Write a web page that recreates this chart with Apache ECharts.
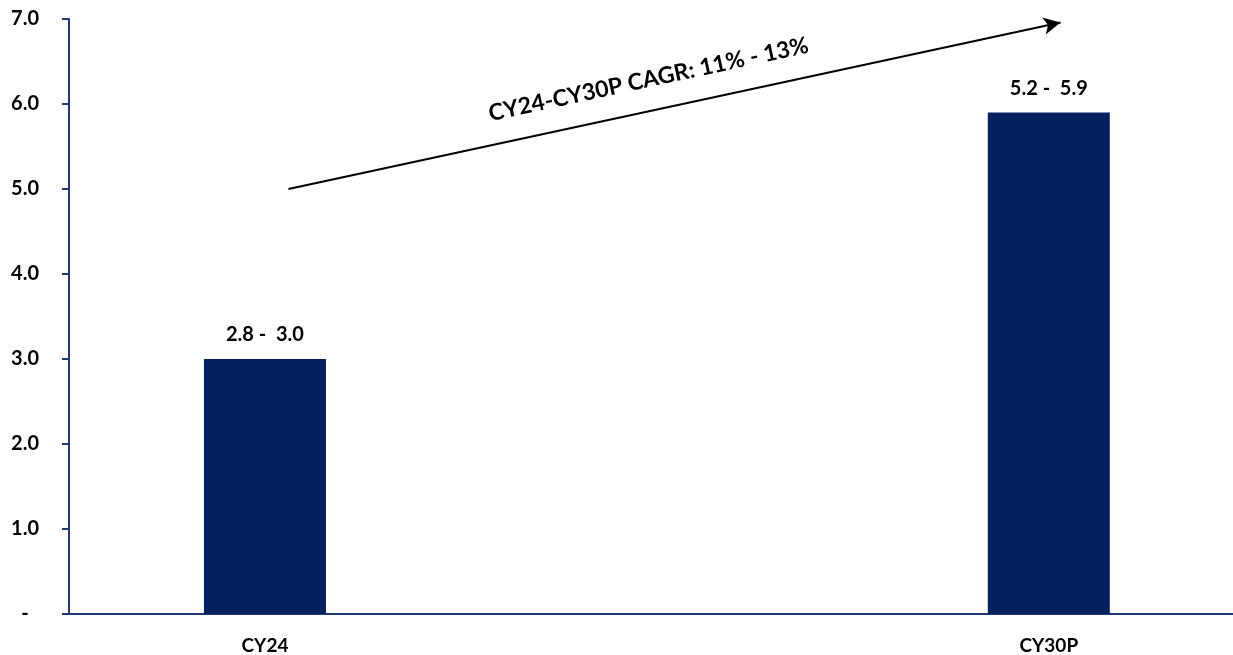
<!DOCTYPE html>
<html>
<head>
<meta charset="utf-8">
<script src="https://cdn.jsdelivr.net/npm/echarts@6/dist/echarts.min.js"></script>
<style>html,body{margin:0;padding:0;background:#fff}#c{width:1233px;height:655px}</style>
</head>
<body>
<div id="c"></div>
<script>
var categories = ['CY24', 'CY30P'];
var categoryPos = [0, 2];
var barValues = [3.0, 5.9];
var barLabels = ['2.8 -  3.0', '5.2 -  5.9'];
var yTicks = ['-', '1.0', '2.0', '3.0', '4.0', '5.0', '6.0', '7.0'];
var arrowStart = [0.06, 5.0];
var arrowEnd = [2.03, 6.96];
var arrowText = 'CY24-CY30P CAGR: 11% - 13%';

var FONT = 'Lato';
var barData = categoryPos.map(function (x, i) { return [x, barValues[i]]; });
var chart = echarts.init(document.getElementById('c'));
chart.setOption({
  animation: false,
  grid: { left: 69, right: 0, top: 19, bottom: 41, containLabel: false },
  xAxis: {
    type: 'value', min: -0.5, max: 2.47, interval: 0.5,
    splitLine: { show: false },
    axisLine: { onZero: false, lineStyle: { color: '#1F3A74', width: 2 } },
    axisTick: { show: false },
    axisLabel: {
      color: '#000', fontFamily: FONT, fontWeight: 'bold', fontSize: 19, margin: 22,
      showMinLabel: false, showMaxLabel: false,
      formatter: function (v) {
        var k = categoryPos.indexOf(Math.round(v * 100) / 100);
        return k >= 0 ? categories[k] : '';
      }
    }
  },
  yAxis: {
    type: 'value', min: 0, max: 7, interval: 1,
    axisLine: { show: true, onZero: false, lineStyle: { color: '#1F3A74', width: 2 } },
    axisTick: { show: true, length: 7, lineStyle: { color: '#1F3A74', width: 2 } },
    splitLine: { show: false },
    axisLabel: {
      color: '#000', fontFamily: FONT, fontWeight: 'bold', fontSize: 20, margin: 44, align: 'center',
      formatter: function (v) { return yTicks[Math.round(v)]; }
    }
  },
  series: [{
    type: 'bar',
    data: barData,
    barWidth: 122,
    itemStyle: { color: '#03215E' },
    label: {
      show: true, position: 'top', distance: 14,
      color: '#000', fontFamily: FONT, fontWeight: 'bold', fontSize: 20,
      formatter: function (p) { return barLabels[p.dataIndex]; }
    },
    markLine: {
      silent: true,
      symbol: ['none', 'arrow'],
      symbolSize: [13, 17],
      lineStyle: { color: '#000', width: 2, type: 'solid' },
      label: {
        show: true, position: 'middle', distance: 20, offset: [-24, 0],
        color: '#000', fontFamily: FONT, fontWeight: 'bold', fontSize: 23,
        formatter: arrowText
      },
      data: [[{ coord: arrowStart }, { coord: arrowEnd }]]
    }
  }]
});
</script>
</body>
</html>
